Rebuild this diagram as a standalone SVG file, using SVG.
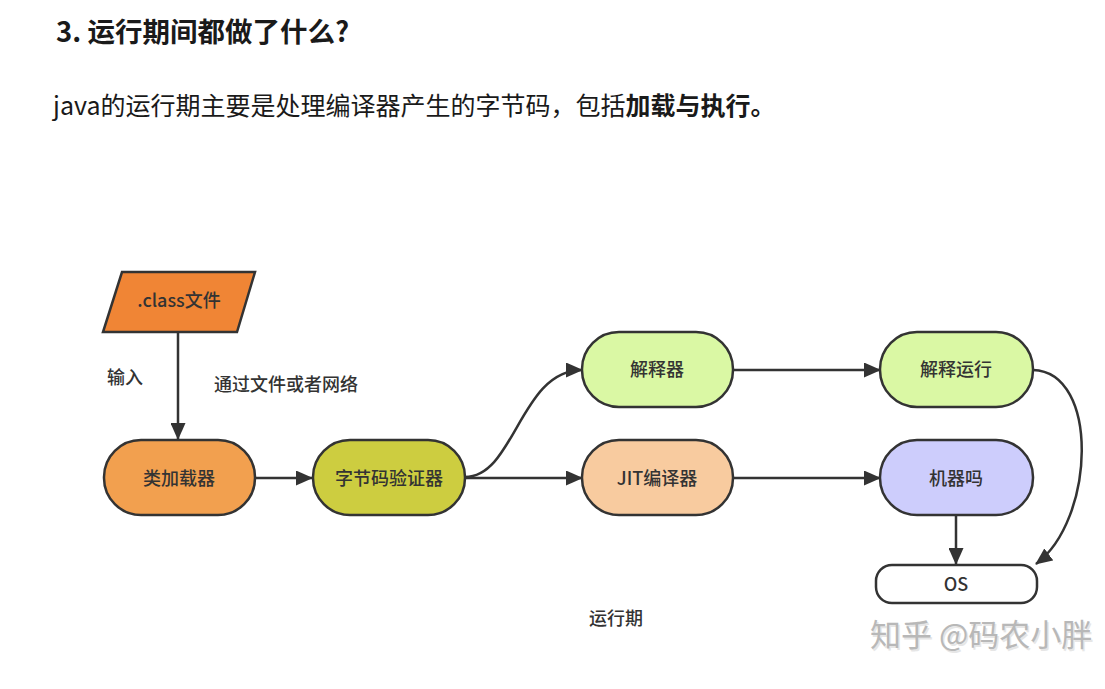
<svg xmlns="http://www.w3.org/2000/svg" width="1105" height="689" viewBox="0 0 1105 689">
<defs>
<marker id="ah" markerWidth="17" markerHeight="15" refX="16" refY="7.5" orient="auto" markerUnits="userSpaceOnUse">
<path d="M0,0 L17,7.5 L0,15 Z" fill="#333"/>
</marker>
</defs>
<style>
.h{font-family:"Noto Sans CJK SC","Noto Sans",sans-serif;fill:#1a1a1a}
.n{stroke:#333;stroke-width:2.5}
.t{font-family:"Noto Sans CJK SC","Noto Sans",sans-serif;font-size:18px;font-weight:500;fill:#333;text-anchor:middle}
.l{font-family:"Noto Sans CJK SC","Noto Sans",sans-serif;font-size:18px;font-weight:500;fill:#333}
.c{fill:none;stroke:#333;stroke-width:2.5;marker-end:url(#ah)}
.w{font-family:"Noto Sans CJK SC",sans-serif;font-size:31px}
</style>
<rect width="1105" height="689" fill="#fff"/>
<text class="h" x="56" y="42" font-size="27.5" font-weight="700">3. 运行期间都做了什么?</text>
<text class="h" x="53" y="115" font-size="25">java的运行期主要是处理编译器产生的字节码，包括<tspan font-weight="700">加载与执行。</tspan></text>

<g id="connectors">
<path class="c" d="M178,332 L178,439"/>
<path class="c" d="M255,478 L312,478"/>
<path class="c" d="M465,478 L582,478"/>
<path class="c" d="M465,477 C515,477 520,370 582,370"/>
<path class="c" d="M733,370 L880,370"/>
<path class="c" d="M733,478 L880,478"/>
<path class="c" d="M956,515 L956,564"/>
<path class="c" d="M1033,370 C1100,372 1095,520 1036,564"/>
</g>

<g id="class-file">
<polygon class="n" points="122,272 255,272 237,332 103,332" fill="#F08535"/>
<text class="t" x="179" y="307">.class文件</text>
</g>
<g id="label-input"><text class="l" x="107" y="384">输入</text></g>
<g id="label-via"><text class="l" x="214" y="391" font-size="19.5">通过文件或者网络</text></g>

<g id="class-loader">
<rect class="n" x="104" y="440" width="151" height="75" rx="37" fill="#F2A04F"/>
<text class="t" x="179" y="485">类加载器</text>
</g>
<g id="verifier">
<rect class="n" x="313" y="440" width="152" height="75" rx="37" fill="#CDCD40"/>
<text class="t" x="389" y="485">字节码验证器</text>
</g>
<g id="interpreter">
<rect class="n" x="582" y="332" width="151" height="75" rx="37" fill="#DAF8A4"/>
<text class="t" x="657" y="376">解释器</text>
</g>
<g id="jit">
<rect class="n" x="582" y="440" width="151" height="75" rx="37" fill="#F8CB9F"/>
<text class="t" x="657" y="485">JIT编译器</text>
</g>
<g id="interp-run">
<rect class="n" x="880" y="332" width="153" height="75" rx="37" fill="#DAF8A4"/>
<text class="t" x="956" y="376">解释运行</text>
</g>
<g id="machine">
<rect class="n" x="880" y="440" width="153" height="75" rx="37" fill="#CDCDFC"/>
<text class="t" x="956" y="485">机器吗</text>
</g>
<g id="os">
<rect class="n" x="876" y="565" width="161" height="38" rx="16" fill="#fff"/>
<text class="t" x="956" y="591" font-weight="400">OS</text>
</g>
<g id="caption"><text class="l" x="589" y="625" font-size="17" font-weight="400">运行期</text></g>
<g id="watermark">
<text class="w" x="870" y="646" fill="#e6e6e6" transform="translate(1.5,1.5)">知乎 @码农小胖</text>
<text class="w" x="870" y="646" fill="#b8b8b8">知乎 @码农小胖</text>
</g>
</svg>
